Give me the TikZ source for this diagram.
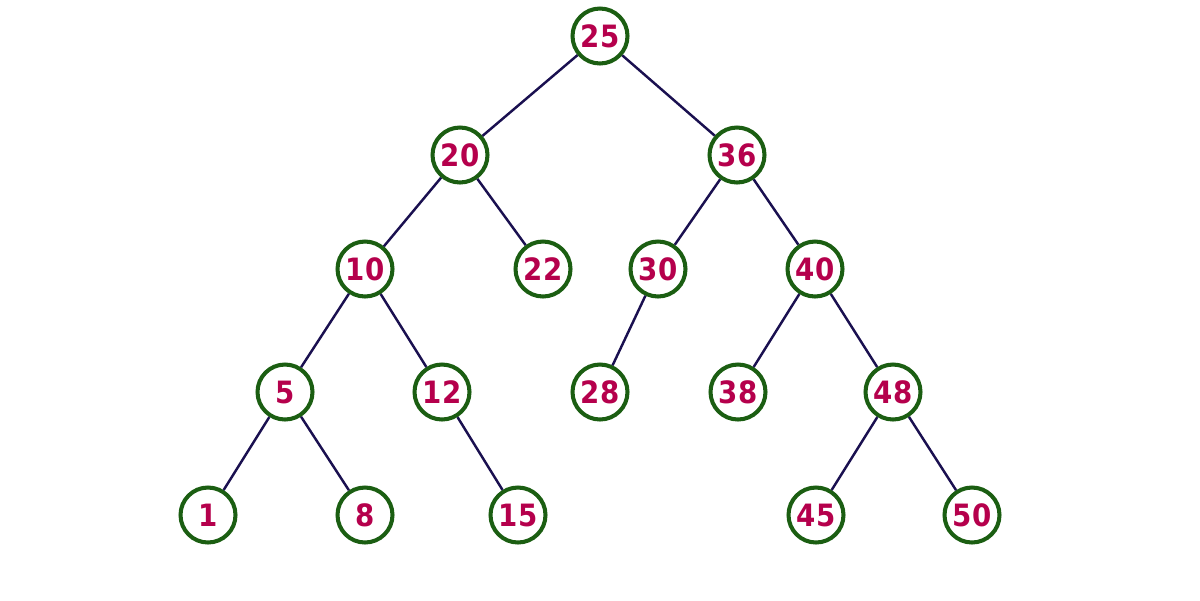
\documentclass[tikz,border=0pt]{standalone}
\usepackage{fontspec}
\setmainfont{DejaVu Sans}
\newfontfamily\numfont{DejaVu Sans Condensed}
\definecolor{ringgreen}{HTML}{1B5E12}
\definecolor{numred}{HTML}{B5004C}
\definecolor{edgenavy}{HTML}{1A1050}
\begin{document}
\begin{tikzpicture}[x=0.02cm,y=-0.02cm,
  bstnode/.style={circle,draw=ringgreen,line width=2.3pt,fill=white,minimum size=1.1cm,inner sep=0pt,
    text=numred,font=\numfont\fontsize{17.5}{19}\selectfont\bfseries},
  link/.style={draw=edgenavy,line width=1.4pt}]
\useasboundingbox (0,0) rectangle (1200,600);
\node[bstnode] (n25) at (600,36) {25};
\node[bstnode] (n20) at (460,155) {20};
\node[bstnode] (n36) at (737,155) {36};
\node[bstnode] (n10) at (365,269) {10};
\node[bstnode] (n22) at (543,269) {22};
\node[bstnode] (n30) at (658,269) {30};
\node[bstnode] (n40) at (815,269) {40};
\node[bstnode] (n5) at (285,392) {5};
\node[bstnode] (n12) at (442,392) {12};
\node[bstnode] (n28) at (600,392) {28};
\node[bstnode] (n38) at (738,392) {38};
\node[bstnode] (n48) at (893,392) {48};
\node[bstnode] (n1) at (208,515) {1};
\node[bstnode] (n8) at (365,515) {8};
\node[bstnode] (n15) at (518,515) {15};
\node[bstnode] (n45) at (816,515) {45};
\node[bstnode] (n50) at (972,515) {50};
\foreach \a/\b in {n25/n20,n25/n36,n20/n10,n20/n22,n36/n30,n36/n40,n10/n5,n10/n12,n30/n28,n40/n38,n40/n48,n5/n1,n5/n8,n12/n15,n48/n45,n48/n50}
  \draw[link] (\a) -- (\b);
\end{tikzpicture}
\end{document}
